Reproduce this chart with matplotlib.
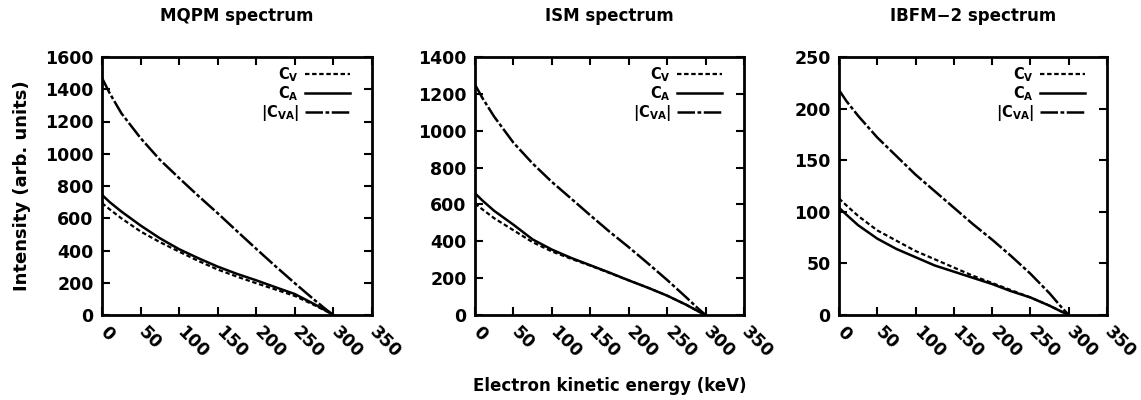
import matplotlib
matplotlib.use('Agg')
import matplotlib.pyplot as plt
import matplotlib.transforms as mtransforms

# electron kinetic energy grid (keV)
energy = [0, 10, 25, 50, 75, 100, 125, 150, 175, 200, 225, 250, 275, 290, 300]

# MQPM
mqpm_cv = [694, 655, 600, 518, 452, 393, 335, 282, 238, 197, 158, 118, 62, 26, 0]
mqpm_ca = [745, 700, 642, 555, 476, 408, 352, 300, 255, 215, 172, 130, 68, 28, 0]
mqpm_cva = [1470, 1375, 1252, 1097, 963, 849, 738, 631, 520, 410, 302, 197, 95, 36, 0]

# ISM
ism_cv = [605, 572, 525, 460, 395, 345, 305, 268, 228, 188, 148, 105, 55, 21, 0]
ism_ca = [660, 620, 565, 490, 410, 355, 310, 270, 230, 188, 148, 105, 55, 21, 0]
ism_cva = [1250, 1175, 1076, 935, 822, 722, 632, 541, 452, 368, 280, 190, 95, 36, 0]

# IBFM-2
ibfm_cv = [113, 106, 96, 82, 72, 62, 54, 46, 38, 31, 24, 17, 9, 3.5, 0]
ibfm_ca = [104, 97, 87, 74, 64, 56, 48, 42, 36, 30, 23, 17, 9, 3.5, 0]
ibfm_cva = [218, 207, 193, 172, 154, 136, 120, 104, 88, 73, 57, 40, 21, 8, 0]

titles = ['MQPM spectrum', 'ISM spectrum', 'IBFM\u22122 spectrum']
y_max = [1600, 1400, 250]
y_step = [200, 200, 50]
x_ticks = [0, 50, 100, 150, 200, 250, 300, 350]
labels = [r'$\mathregular{C_V}$', r'$\mathregular{C_A}$', r'$\mathregular{|C_{VA}|}$']

plt.rcParams['font.family'] = ['DejaVu Sans']
plt.rcParams['font.weight'] = 'bold'
plt.rcParams['mathtext.default'] = 'regular'

fig = plt.figure(figsize=(11.41, 4.0), dpi=100)
lefts = [0.0894, 0.4163, 0.7353]
widths = [0.2366, 0.2358, 0.2349]

panels = [(mqpm_cv, mqpm_ca, mqpm_cva),
          (ism_cv, ism_ca, ism_cva),
          (ibfm_cv, ibfm_ca, ibfm_cva)]

# gnuplot puts the rotated labels a little right of the tick
shift = mtransforms.ScaledTranslation(7 / 100, 0, fig.dpi_scale_trans)

for i, (cv, ca, cva) in enumerate(panels):
    ax = fig.add_axes([lefts[i], 0.2125, widths[i], 0.645])
    ax.plot(energy, cv, color='black', lw=1.6, ls=(0, (2, 1.2)), label=labels[0])
    ax.plot(energy, ca, color='black', lw=1.8, ls='-', label=labels[1])
    ax.plot(energy, cva, color='black', lw=1.8, ls=(0, (7, 1, 1.5, 1)), label=labels[2])

    ax.set_xlim(0, 350)
    ax.set_ylim(0, y_max[i])
    ax.set_xticks(x_ticks)
    ax.set_yticks(range(0, y_max[i] + 1, y_step[i]))
    ax.tick_params(direction='in', length=6, width=1.5, top=True, right=True,
                   labelsize=12.5, pad=6)
    ax.set_xticklabels([str(t) for t in x_ticks], rotation=-45, ha='left', va='top',
                       rotation_mode='anchor')
    for lab in ax.get_xticklabels():
        lab.set_transform(lab.get_transform() + shift)
    for sp in ax.spines.values():
        sp.set_linewidth(2)
    ax.set_title(titles[i], fontsize=12, fontweight='bold', pad=26)

    leg = ax.legend(loc='upper right', bbox_to_anchor=(0.94, 0.99), frameon=False,
                    markerfirst=False, fontsize=10.5, handlelength=3.1,
                    handletextpad=0.4, labelspacing=0.0, borderaxespad=0)
    for t in leg.get_texts():
        t.set_ha('right')

    if i == 0:
        ax.set_ylabel('Intensity (arb. units)', fontsize=13, fontweight='bold', labelpad=10)
    if i == 1:
        ax.set_xlabel('Electron kinetic energy (keV)', fontsize=12, fontweight='bold',
                      labelpad=11)

fig.savefig('out.png', dpi=100)
